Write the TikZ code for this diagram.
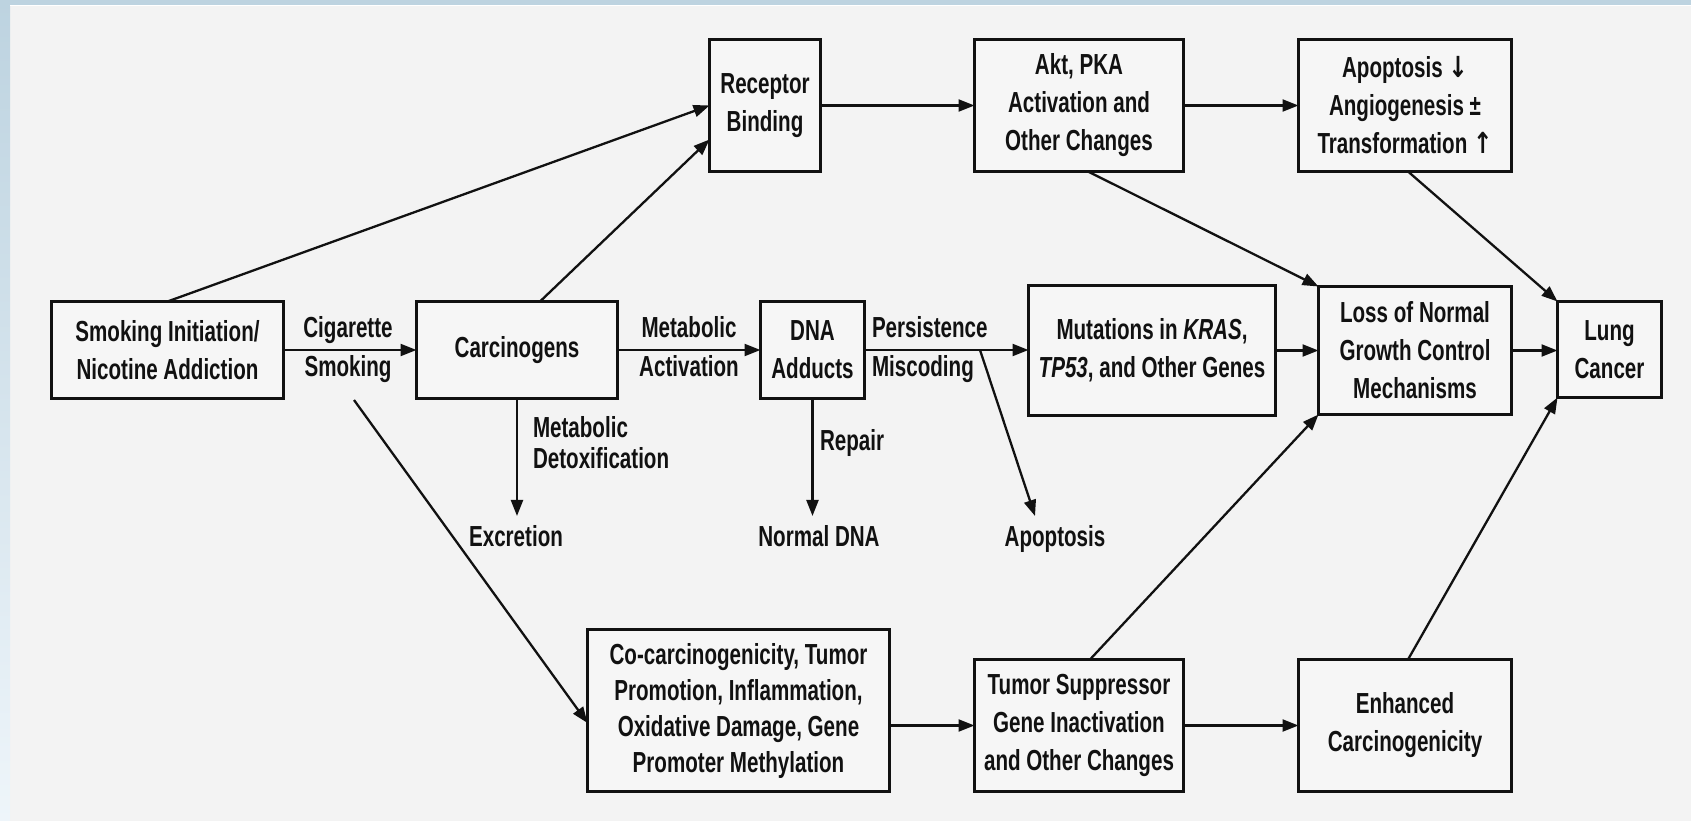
\documentclass[tikz,border=0pt]{standalone}
\usepackage{fontspec}
\setmainfont{Liberation Sans}[FakeStretch=0.71]
\newfontfamily\arrfont{DejaVu Sans}[FakeStretch=0.8]
\usetikzlibrary{arrows.meta}
\definecolor{bgc}{HTML}{F3F3F3}
\definecolor{boxc}{HTML}{F6F6F6}
\definecolor{stripc}{HTML}{BDD3E0}
\definecolor{stripl}{HTML}{EEF5FA}
\definecolor{ink}{HTML}{111111}
\newcommand\txtfont{\fontsize{29}{38}\selectfont\bfseries}
\newcommand\dnarr{{\arrfont\bfseries ↓}}
\newcommand\uparr{{\arrfont\bfseries ↑}}
\begin{document}
\begin{tikzpicture}[x=1pt,y=-1pt,
  bx/.style={draw=ink, line width=3.4pt, fill=boxc, inner sep=0pt, outer sep=0pt, align=center, font=\txtfont, text=ink},
  lbl/.style={inner sep=0pt, outer sep=0pt, font=\txtfont, text=ink},
  arr/.style={draw=ink, line width=2.3pt, -{Triangle[length=16pt,width=12pt]}}]
\useasboundingbox (0,0) rectangle (1691,821);
% background
\fill[bgc] (0,0) rectangle (1691,821);
\shade[top color=stripc, bottom color=stripl] (0,0) rectangle (10,821);
\fill[stripc] (0,0) rectangle (1691,5);
\fill[white] (10,5) rectangle (1691,6.5);
% boxes
\node[bx, minimum width=232pt, minimum height=97pt] (S) at (167.5,350) {Smoking Initiation/\\Nicotine Addiction};
\node[bx, minimum width=201pt, minimum height=97pt] (C) at (517,350) {Carcinogens};
\node[bx, minimum width=111pt, minimum height=132pt] (R) at (765,105.5) {Receptor\\Binding};
\node[bx, minimum width=209pt, minimum height=132pt] (A) at (1079,105.5) {Akt, PKA\\Activation and\\Other Changes};
\node[bx, minimum width=213pt, minimum height=132pt] (P) at (1405,105.5) {Apoptosis \dnarr\\Angiogenesis ±\\Transformation \uparr};
\node[bx, minimum width=104pt, minimum height=97pt] (D) at (812.5,350) {DNA\\Adducts};
\node[bx, minimum width=247pt, minimum height=130pt] (M) at (1152,350.5) {Mutations in \textit{KRAS},\\\textit{TP53}, and Other Genes};
\node[bx, minimum width=193pt, minimum height=128pt] (L) at (1415,350.5) {Loss of Normal\\Growth Control\\Mechanisms};
\node[bx, minimum width=104pt, minimum height=96pt] (LC) at (1609.5,349.5) {Lung\\Cancer};
\node[bx, minimum width=302pt, minimum height=162pt, font=\fontsize{29}{36}\selectfont\bfseries] (CO) at (738.5,710.5) {Co-carcinogenicity, Tumor\\Promotion, Inflammation,\\Oxidative Damage, Gene\\Promoter Methylation};
\node[bx, minimum width=209pt, minimum height=132pt] (T) at (1079,725.5) {Tumor Suppressor\\Gene Inactivation\\and Other Changes};
\node[bx, minimum width=213pt, minimum height=132pt] (E) at (1405,725.5) {Enhanced\\Carcinogenicity};
% labels
\node[lbl, align=center, font=\fontsize{29}{39}\selectfont\bfseries] (cig) at (348,350) {Cigarette\\Smoking};
\node[lbl, align=center, font=\fontsize{29}{39}\selectfont\bfseries] (met) at (689,347) {Metabolic\\Activation};
\node[lbl, align=left, anchor=west, font=\fontsize{29}{39}\selectfont\bfseries] (per) at (872,350) {Persistence\\Miscoding};
\node[lbl, align=left, anchor=north west, font=\fontsize{29}{31}\selectfont\bfseries] (det) at (533,416) {Metabolic\\Detoxification};
\node[lbl, anchor=base] (exc) at (516,546) {Excretion};
\node[lbl, anchor=base] (nd) at (819,546) {Normal DNA};
\node[lbl, anchor=base] (apo) at (1055,546) {Apoptosis};
\node[lbl, anchor=base west] (rep) at (820,450) {Repair};
\coordinate (br) at (980,350);
\coordinate (cs) at (354,400);
% connectors
\draw[arr] (S.north) -- (R.west);
\draw[arr] ([xshift=23pt]C.north) -- ([yshift=-34pt]R.west);
\draw[arr] (R.east) -- (A.west);
\draw[arr] (A.east) -- (P.west);
\draw[arr] ([xshift=9pt]A.south) -- (L.north west);
\draw[arr] ([xshift=3pt]P.south) -- (LC.north west);
\draw[arr] (S.east) -- (C.west);
\draw[arr] (C.east) -- (D.west);
\draw[arr] (D.east) -- (D.east -| M.west);
\draw[arr] (M.east) -- (M.east -| L.west);
\draw[arr] (L.east) -- (L.east -| LC.west);
\draw[arr, shorten >=9pt] (C.south) -- (C.south |- exc.north);
\draw[arr, shorten >=9pt] (D.south) -- (D.south |- nd.north);
\draw[arr] (br) -- ([xshift=-20pt,yshift=9pt]apo.north);
\draw[arr] (cs) -- ([yshift=-12.5pt]CO.west);
\draw[arr] (T.west -| CO.east) -- (T.west);
\draw[arr] (T.east) -- (E.west);
\draw[arr] ([xshift=11pt]T.north) -- (L.south west);
\draw[arr] ([xshift=3pt]E.north) -- (LC.south west);
\end{tikzpicture}
\end{document}
